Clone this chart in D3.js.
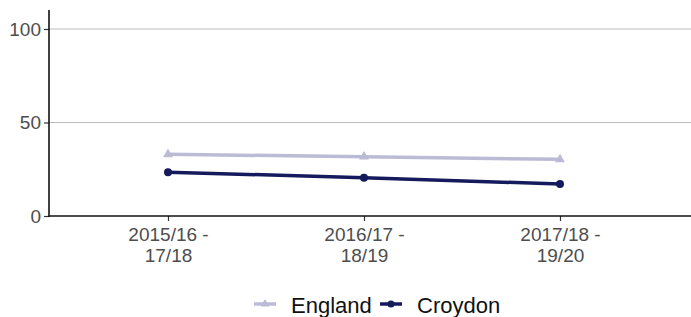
<!DOCTYPE html>
<html lang="en">
  <head>
    <meta charset="utf-8">
    <title>England vs Croydon</title>
    <script src="https://d3js.org/d3.v7.min.js"></script>
    <style>
      body { margin: 0; background: white; }
      text { font-family: "Liberation Sans", Arial, sans-serif; }
    </style>
  </head>
  <body>
    <script type="text/javascript">

      // data
      var periods = ["2015/16 - 17/18", "2016/17 - 18/19", "2017/18 - 19/20"];
      var england = [33.0, 31.7, 30.3];
      var croydon = [23.4, 20.5, 17.1];
      var yTicks = [0, 50, 100];

      var w = 691;
      var h = 317;

      var svg = d3.select("body")
          .append("svg")
          .attr("width", w)
          .attr("height", h);

      svg.append("rect")
          .attr("width", w)
          .attr("height", h)
          .attr("fill", "white");

      var xScale = d3.scalePoint()
          .domain(periods)
          .range([168, 560]);

      var yScale = d3.scaleLinear()
          .domain([0, 100])
          .range([216, 29]);

      var axisLeftX = 49;
      var axisRightX = 691;

      // gridlines
      svg.append("g")
          .selectAll("line")
          .data(yTicks.filter(function(d) { return d > 0; }))
          .enter().append("line")
          .attr("x1", axisLeftX)
          .attr("x2", axisRightX)
          .attr("y1", function(d) { return yScale(d); })
          .attr("y2", function(d) { return yScale(d); })
          .attr("stroke", "#bdbdbd")
          .attr("stroke-width", 1.2);

      // y axis
      var yAxis = d3.axisLeft(yScale)
          .tickValues(yTicks)
          .tickSize(5)
          .tickPadding(3);

      var gy = svg.append("g")
          .attr("transform", "translate(" + axisLeftX + ",0)")
          .call(yAxis);
      gy.select(".domain").remove();
      gy.selectAll(".tick line").attr("stroke", "#333").attr("stroke-width", 1.2);
      gy.selectAll(".tick text")
          .attr("fill", "#4d4d4d")
          .style("font-size", "19px");
      gy.append("line")
          .attr("x1", 0).attr("x2", 0)
          .attr("y1", 10).attr("y2", 217)
          .attr("stroke", "#111")
          .attr("stroke-width", 1.6);

      // x axis
      var xAxis = d3.axisBottom(xScale)
          .tickSize(5)
          .tickPadding(4);

      var gx = svg.append("g")
          .attr("transform", "translate(0,216)")
          .call(xAxis);
      gx.select(".domain").remove();
      gx.selectAll(".tick line").attr("stroke", "#333").attr("stroke-width", 1.2);
      gx.append("line")
          .attr("x1", axisLeftX).attr("x2", axisRightX)
          .attr("y1", 0).attr("y2", 0)
          .attr("stroke", "#111")
          .attr("stroke-width", 1.6);

      gx.selectAll(".tick text")
          .attr("fill", "#4d4d4d")
          .style("font-size", "19px")
          .text(null)
          .each(function(d) {
            var parts = d.split(" - ");
            var t = d3.select(this).attr("y", null).attr("dy", null);
            t.append("tspan").attr("x", 0).attr("y", 25).text(parts[0] + " -");
            t.append("tspan").attr("x", 0).attr("y", 46).text(parts[1]);
          });

      // series
      var series = [
        {name: "England", values: england, color: "#bcbbd6", shape: d3.symbolTriangle, size: 42},
        {name: "Croydon", values: croydon, color: "#141a5c", shape: d3.symbolCircle, size: 50}
      ];

      var line = d3.line()
          .x(function(d, i) { return xScale(periods[i]); })
          .y(function(d) { return yScale(d); });

      series.forEach(function(s) {
        svg.append("path")
            .datum(s.values)
            .attr("d", line)
            .attr("fill", "none")
            .attr("stroke", s.color)
            .attr("stroke-width", 3.5);

        svg.append("g")
            .selectAll("path")
            .data(s.values)
            .enter().append("path")
            .attr("d", d3.symbol().type(s.shape).size(s.size))
            .attr("transform", function(d, i) {
              return "translate(" + xScale(periods[i]) + "," + yScale(d) + ")";
            })
            .attr("fill", s.color);
      });

      // legend
      var legendX = [254, 380];
      var legend = svg.append("g");
      series.forEach(function(s, i) {
        var g = legend.append("g")
            .attr("transform", "translate(" + legendX[i] + ",304)");
        g.append("line")
            .attr("x1", 0).attr("x2", 22)
            .attr("y1", 0).attr("y2", 0)
            .attr("stroke", s.color)
            .attr("stroke-width", 3.5);
        g.append("path")
            .attr("d", d3.symbol().type(s.shape).size(s.size * 0.8))
            .attr("transform", "translate(11,0)")
            .attr("fill", s.color);
        g.append("text")
            .attr("x", 37)
            .attr("y", 9)
            .attr("fill", "#111")
            .style("font-size", "22px")
            .text(s.name);
      });

    </script>
  </body>
</html>
